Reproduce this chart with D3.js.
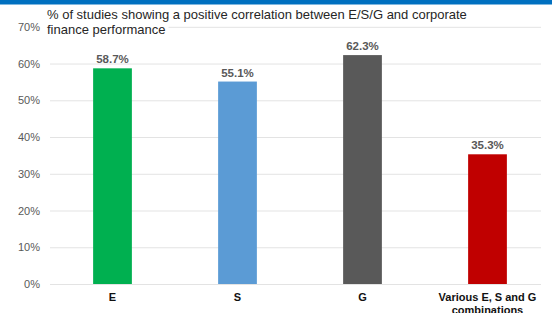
<!DOCTYPE html>
<html><head><meta charset="utf-8">
<script src="https://cdn.jsdelivr.net/npm/d3@7"></script>
<style>body{margin:0;background:#fff;}svg{display:block;font-family:"Liberation Sans",Arial,sans-serif;}</style>
</head><body>
<script>
const categories = ["E", "S", "G", "Various E, S and G|combinations"];
const values = [58.7, 55.1, 62.3, 35.3];
const colors = ["#00b050", "#5b9bd5", "#595959", "#c00000"];
const yTicks = [0, 10, 20, 30, 40, 50, 60, 70];
const titleLines = ["% of studies showing a positive correlation between E/S/G and corporate", "finance performance"];

const W = 552, H = 313;
const svg = d3.select("body").append("svg").attr("width", W).attr("height", H);

svg.append("rect").attr("x", 0).attr("y", 0).attr("width", W).attr("height", 4.5).attr("fill", "#0070c0");

const x = d3.scaleBand().domain(categories).range([50, 550]).paddingInner(0.69).paddingOuter(0.345);
const y = d3.scaleLinear().domain([0, 70]).range([284, 26.8]);

const yAxis = svg.append("g").attr("transform", "translate(50,0)")
  .call(d3.axisLeft(y).tickValues(yTicks).tickFormat(d => d + "%").tickSize(-491).tickPadding(10));
yAxis.select(".domain").remove();
yAxis.selectAll(".tick line").attr("stroke", "#e3e3e3").attr("stroke-width", 1);
yAxis.selectAll(".tick text").attr("fill", "#595959").style("font-size", "11px");

svg.selectAll("rect.bar").data(values).enter().append("rect").attr("class", "bar")
  .attr("x", (d, i) => x(categories[i]))
  .attr("y", d => y(d))
  .attr("width", x.bandwidth())
  .attr("height", d => y(0) - y(d))
  .attr("fill", (d, i) => colors[i]);

svg.selectAll("text.val").data(values).enter().append("text").attr("class", "val")
  .attr("x", (d, i) => x(categories[i]) + x.bandwidth() / 2)
  .attr("y", d => y(d) - 5)
  .attr("text-anchor", "middle").attr("fill", "#595959")
  .style("font-size", "11.5px").style("font-weight", "bold")
  .text(d => d.toFixed(1) + "%");

categories.forEach((c, i) => {
  const lines = c.split("|");
  const t = svg.append("text").attr("text-anchor", "middle").attr("fill", "#111")
    .style("font-size", "11px").style("font-weight", "bold");
  lines.forEach((l, j) => {
    t.append("tspan").attr("x", x(c) + x.bandwidth() / 2).attr("y", 301 + j * 12.5).text(l);
  });
});

// title
const tg = svg.append("g");
const t2bg = tg.append("rect").attr("fill", "#fff");
const title = tg.append("text").attr("fill", "#262626").style("font-size", "13px");
titleLines.forEach((l, j) => {
  title.append("tspan").attr("x", 47).attr("y", 19 + j * 14.5).text(l);
});
const l2 = title.selectAll("tspan").nodes()[1];
const w2 = l2.getComputedTextLength();
t2bg.attr("x", 45).attr("y", 23).attr("width", w2 + 5).attr("height", 14);
</script>
</body></html>
